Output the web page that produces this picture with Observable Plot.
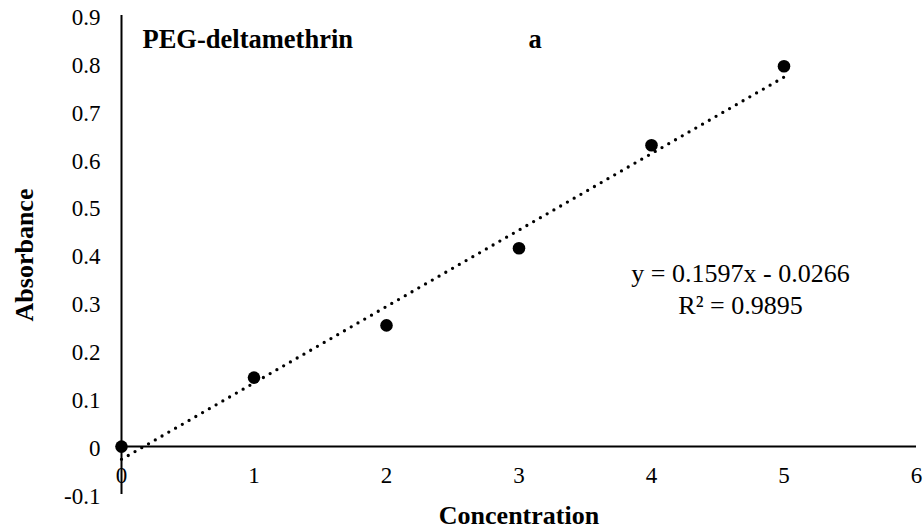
<!DOCTYPE html>
<html><head><meta charset="utf-8">
<script src="https://cdn.jsdelivr.net/npm/d3@7"></script>
<script src="https://cdn.jsdelivr.net/npm/@observablehq/plot@0.6"></script>
<style>body{margin:0;background:#fff}</style>
</head><body><div id="chart"></div>
<script>
const concentration = [0, 1, 2, 3, 4, 5];
const absorbance = [0, 0.144, 0.253, 0.414, 0.629, 0.794];
const xTicks = [0, 1, 2, 3, 4, 5, 6];
const yTicks = [-0.1, 0, 0.1, 0.2, 0.3, 0.4, 0.5, 0.6, 0.7, 0.8, 0.9];
const yTickLabels = ["-0.1", "0", "0.1", "0.2", "0.3", "0.4", "0.5", "0.6", "0.7", "0.8", "0.9"];
const title = "PEG-deltamethrin";
const panelLabel = "a";
const equation = "y = 0.1597x - 0.0266";
const r2 = "R² = 0.9895";
const xLabel = "Concentration";
const yLabel = "Absorbance";

const points = concentration.map((x, i) => ({x, y: absorbance[i]}));
const serif = "'Liberation Serif', 'Times New Roman', serif";

const chart = Plot.plot({
  width: 923, height: 531,
  marginLeft: 121, marginRight: 7, marginTop: 15, marginBottom: 37,
  x: {domain: [0, 6], axis: null},
  y: {domain: [-0.1, 0.9], axis: null},
  style: {fontFamily: serif, background: "#fff", color: "#000"},
  marks: [
    Plot.ruleX([0], {y1: -0.1, y2: 0.9, stroke: "#000", strokeWidth: 2}),
    Plot.ruleY([0], {x1: 0, x2: 6, stroke: "#000", strokeWidth: 2}),
    Plot.text(yTicks, {x: 0, y: d => d, text: (d, i) => yTickLabels[i], textAnchor: "end", dx: -21, dy: 2, fontSize: 23, fill: "#000"}),
    Plot.text(xTicks, {x: d => d, y: 0, text: d => String(d), dy: 36, lineAnchor: "bottom", fontSize: 23, fill: "#000"}),
    Plot.linearRegressionY(points, {x: "x", y: "y", ci: 0, stroke: "#000", strokeWidth: 3.3, strokeDasharray: "0,7.8", strokeLinecap: "round"}),
    Plot.dot(points, {x: "x", y: "y", r: 6.3, fill: "#000"}),
    Plot.text([title], {frameAnchor: "top-left", dx: 21, dy: 32, lineAnchor: "bottom", textAnchor: "start", fontWeight: "bold", fontSize: 26.5, fill: "#000"}),
    Plot.text([panelLabel], {frameAnchor: "top-left", dx: 407, dy: 32, lineAnchor: "bottom", textAnchor: "start", fontWeight: "bold", fontSize: 26.5, fill: "#000"}),
    Plot.text([equation + "\n" + r2], {frameAnchor: "top-left", dx: 619, dy: 298, lineAnchor: "bottom", textAnchor: "middle", lineHeight: 1.2, fontSize: 26, fill: "#000"}),
    Plot.text([xLabel], {frameAnchor: "bottom", dy: 29, lineAnchor: "bottom", textAnchor: "middle", fontWeight: "bold", fontSize: 26, fill: "#000"}),
    Plot.text([yLabel], {frameAnchor: "left", rotate: -90, dx: -89, lineAnchor: "bottom", textAnchor: "middle", fontWeight: "bold", fontSize: 26, fill: "#000"})
  ]
});
document.getElementById("chart").appendChild(chart);
</script>
</body></html>
